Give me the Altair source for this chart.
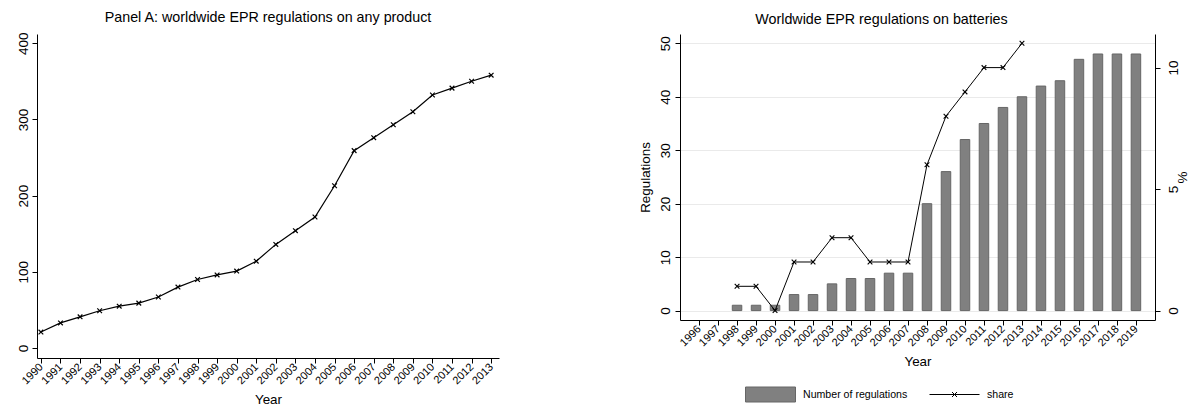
import altair as alt
import pandas as pd

# Panel A: all EPR regulations worldwide, cumulative count per year
years_any = [1990, 1991, 1992, 1993, 1994, 1995, 1996, 1997, 1998, 1999, 2000, 2001,
             2002, 2003, 2004, 2005, 2006, 2007, 2008, 2009, 2010, 2011, 2012, 2013]
regs_any = [21, 33, 41, 49, 55, 59, 67, 80, 90, 96, 101, 114,
            136, 154, 172, 213, 259, 276, 293, 310, 332, 341, 350, 358]

# Panel B: battery EPR regulations (count) and their share of all EPR regulations (%)
years_batt = [1996, 1997, 1998, 1999, 2000, 2001, 2002, 2003, 2004, 2005, 2006, 2007,
              2008, 2009, 2010, 2011, 2012, 2013, 2014, 2015, 2016, 2017, 2018, 2019]
regs_batt = [0, 0, 1, 1, 1, 3, 3, 5, 6, 6, 7, 7,
             20, 26, 32, 35, 38, 40, 42, 43, 47, 48, 48, 48]
years_share = [1998, 1999, 2000, 2001, 2002, 2003, 2004, 2005,
               2006, 2007, 2008, 2009, 2010, 2011, 2012, 2013]
share_batt = [1, 1, 0, 2, 2, 3, 3, 2, 2, 2, 6, 8, 9, 10, 10, 11]

any_ticks = [0, 100, 200, 300, 400]
batt_ticks = [0, 10, 20, 30, 40, 50]
share_ticks = [0, 5, 10]

FONT = "Liberation Sans"
X_MARK = "M-1,-1L1,1M-1,1L1,-1"

df_any = pd.DataFrame({"year": years_any, "n": regs_any})
df_batt = pd.DataFrame({"year": years_batt, "n": regs_batt})
df_share = pd.DataFrame({"year": years_share, "share": share_batt})

axis_common = dict(domainColor="black", tickColor="black", labelColor="black",
                   titleColor="black", tickSize=5, domainWidth=1, tickWidth=1,
                   labelFont=FONT, titleFont=FONT, titleFontWeight="normal")


def year_axis(values):
    return alt.Axis(values=values, format="d", labelAngle=-45,
                    labelAlign="right", labelBaseline="middle",
                    labelFontSize=11, labelPadding=2, labelOverlap=False,
                    title="Year", titleFontSize=13.4, titlePadding=7,
                    grid=False, **axis_common)


# ---------- Panel A ----------
xa = alt.X("year:Q",
           scale=alt.Scale(domain=[1989.8, 2013.4], nice=False, zero=False),
           axis=year_axis(years_any))
ya = alt.Y("n:Q",
           scale=alt.Scale(domain=[-13, 412], nice=False, zero=False),
           axis=alt.Axis(values=any_ticks, labelAngle=-90, labelAlign="center",
                         labelBaseline="bottom", labelFontSize=13.5, labelPadding=2,
                         title=None, grid=False, **axis_common))

base_a = alt.Chart(df_any).encode(x=xa, y=ya)
panel_a = alt.layer(
    base_a.mark_line(color="black", strokeWidth=1.2),
    base_a.mark_point(shape=X_MARK, size=22, filled=False, color="black",
                      strokeWidth=1.2, opacity=1),
).properties(
    width=462, height=324,
    title=alt.TitleParams("Panel A: worldwide EPR regulations on any product",
                          font=FONT, fontSize=14.3, fontWeight="normal",
                          color="black", offset=7),
)

# ---------- Panel B ----------
xb = alt.X("year:Q",
           scale=alt.Scale(domain=[1995.26, 2019.74], nice=False, zero=False),
           axis=year_axis(years_batt))

bars = alt.Chart(df_batt).transform_filter("datum.n > 0").transform_calculate(
    series="'Number of regulations'"
).mark_bar(size=9.5, stroke="#666666", strokeWidth=1).encode(
    x=xb,
    y=alt.Y("n:Q",
            scale=alt.Scale(domain=[-1.76, 51.74], nice=False, zero=False),
            axis=alt.Axis(values=batt_ticks, labelAngle=-90, labelAlign="center",
                          labelBaseline="bottom", labelFontSize=13.5, labelPadding=3,
                          title="Regulations", titleFontSize=13.4, titleAngle=270,
                          titlePadding=6, grid=True, gridColor="#eaeaea",
                          gridWidth=1, **axis_common)),
    color=alt.Color("series:N",
                    scale=alt.Scale(domain=["Number of regulations"], range=["#808080"]),
                    legend=alt.Legend(title=None, orient="none", legendX=708, legendY=335,
                                      symbolType="M-1,-0.3H1V0.3H-1Z", symbolSize=2500,
                                      symbolStrokeColor="#666666", symbolStrokeWidth=1,
                                      symbolOpacity=1, labelFont=FONT, labelFontSize=10.6,
                                      labelColor="black", labelOffset=7, padding=0)),
)

share_y = alt.Y("share:Q",
                scale=alt.Scale(domain=[-0.387, 11.383], nice=False, zero=False),
                axis=alt.Axis(orient="right", values=share_ticks, labelAngle=-90,
                              labelAlign="center", labelBaseline="top",
                              labelFontSize=13.5, labelPadding=6,
                              title="%", titleFontSize=13.4, titleAngle=270,
                              titlePadding=10, grid=False, **axis_common))

share_line = alt.Chart(df_share).transform_calculate(series="'share'").mark_line(
    strokeWidth=1
).encode(
    x=xb, y=share_y,
    stroke=alt.Stroke("series:N",
                      scale=alt.Scale(domain=["share"], range=["black"]),
                      legend=alt.Legend(title=None, orient="none", legendX=892, legendY=335,
                                        symbolType="M-1,0L1,0M-0.1,-0.1L0.1,0.1M-0.1,0.1L0.1,-0.1",
                                        symbolSize=2500, symbolStrokeWidth=1,
                                        symbolStrokeColor="black",
                                        labelFont=FONT, labelFontSize=10.6,
                                        labelColor="black", labelOffset=7, padding=0)),
)
share_pts = alt.Chart(df_share).mark_point(
    shape=X_MARK, size=22, filled=False, color="black", strokeWidth=1.1, opacity=1
).encode(x=xb, y=share_y)

panel_b = alt.layer(bars, alt.layer(share_line, share_pts)).resolve_scale(
    y="independent"
).properties(
    width=475, height=286,
    title=alt.TitleParams("Worldwide EPR regulations on batteries",
                          font=FONT, fontSize=14.3, fontWeight="normal",
                          color="black", offset=7, dx=-36),
)

chart = alt.hconcat(panel_a, panel_b, spacing=138).properties(
    padding={"left": 16, "top": 10, "right": 0, "bottom": 0},
    background="white",
).configure_view(stroke=None)

chart.save("out.html", embed_options={"renderer": "svg", "actions": False})
